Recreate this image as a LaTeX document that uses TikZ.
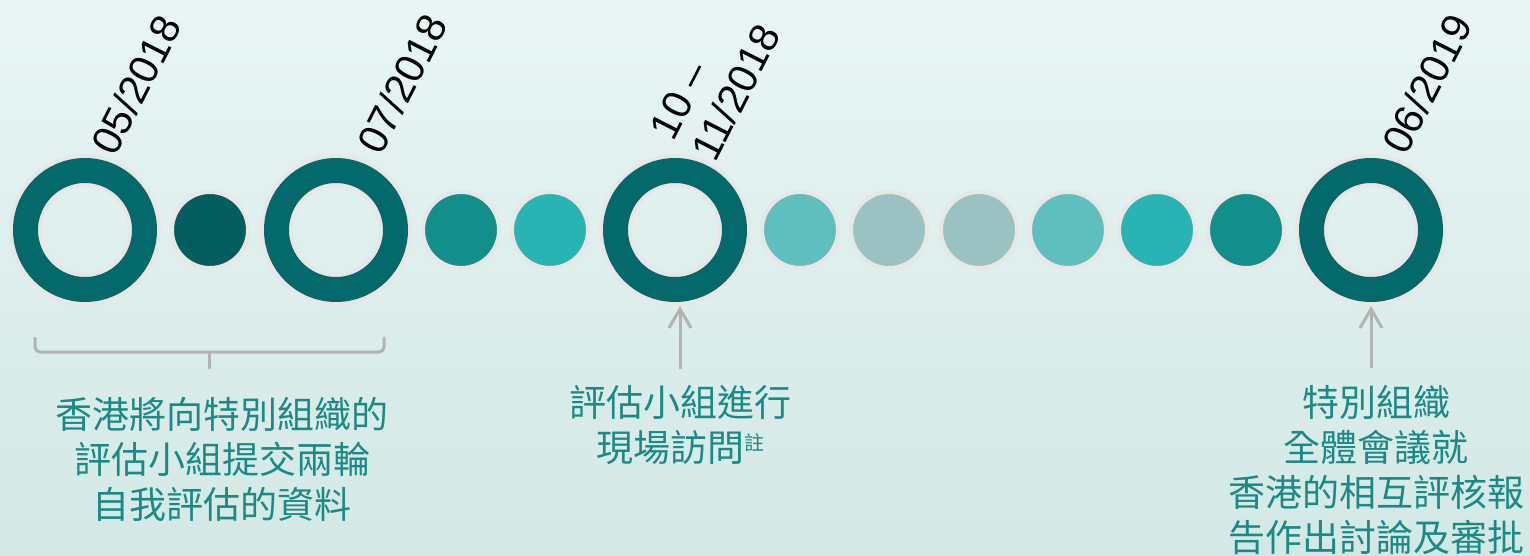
\documentclass[tikz,border=0pt]{standalone}
\usepackage{fontspec}
\setmainfont{Liberation Sans}
\newfontfamily\cjk{Noto Sans CJK TC}
\usetikzlibrary{arrows.meta}
\definecolor{bgtop}{HTML}{E8F5F4}
\definecolor{bgbottom}{HTML}{D3E8E5}
\definecolor{ringteal}{HTML}{03696A}
\definecolor{halo}{HTML}{E9E6E6}
\definecolor{dotdeep}{HTML}{045E5F}
\definecolor{dotmid}{HTML}{128E8B}
\definecolor{dotbright}{HTML}{2AB3B3}
\definecolor{dotsoft}{HTML}{5FBEBE}
\definecolor{dotgrey}{HTML}{9BC2C2}
\definecolor{noteteal}{HTML}{1B8A86}
\definecolor{markgrey}{HTML}{B3B3B3}

\begin{document}
\begin{tikzpicture}[x=1pt, y=-1pt,
    ringnode/.style={circle, inner sep=0pt, outer sep=16.5pt, minimum size=119pt,
        draw=ringteal, line width=25pt, preaction={draw=halo, line width=33pt}},
    dotnode/.style={circle, inner sep=0pt, minimum size=76pt,
        draw=halo, line width=4pt, fill=#1},
    datelabel/.style={rotate=63, anchor=south west, inner sep=0pt, align=left,
        font=\fontsize{41}{47}\selectfont},
    notetext/.style={inner sep=0pt, align=center, text=noteteal,
        font=\cjk\fontsize{37}{45}\selectfont},
    bracket/.style={draw=markgrey, line width=3pt, line cap=round, rounded corners=5pt},
    uparrow/.style={draw=markgrey, line width=3pt, -{Straight Barb[length=19pt, width=22pt]}}
]

% --- BACKGROUND ---
\shade[top color=bgtop, bottom color=bgbottom] (0,0) rectangle (1530,556);
\useasboundingbox (0,0) rectangle (1530,556);

% --- TIMELINE: RINGS AND DOTS ---
\foreach \px [count=\i] in {85,336,675,1371} {
    \node[ringnode] (r\i) at (\px,230) {};
}
\foreach \px/\col [count=\i] in {210/dotdeep, 461/dotmid, 550/dotbright,
        800/dotsoft, 889/dotgrey, 979/dotgrey, 1068/dotsoft, 1157/dotbright, 1246/dotmid} {
    \node[dotnode=\col] (d\i) at (\px,230) {};
}

% --- DATES ---
\node[datelabel] (date1) at ([shift={(31,-72)}]r1.center) {05/2018};
\node[datelabel] (date2) at ([shift={(46,-73)}]r2.center) {07/2018};
\node[datelabel] (date3) at ([shift={(41,-66)}]r3.center) {10 –\\11/2018};
\node[datelabel] (date4) at ([shift={(36,-73)}]r4.center) {06/2019};

% --- NOTES ---
\node[notetext] (selfrep) at (222,459) {香港將向特別組織的\\評估小組提交兩輪\\自我評估的資料};
\node[notetext] (visit) at (680,424.5)
    {評估小組進行\\現場訪問\raisebox{11pt}{\fontsize{20}{20}\selectfont 註}};
\node[notetext] (plenary) at (1376,470)
    {特別組織\\全體會議就\\香港的相互評核報\\告作出討論及審批};

% --- POINTERS ---
\draw[bracket] (35,338) -- (35,352) -- (384,352) -- (384,338);
\draw[bracket] (209,352) -- (209,368);
\draw[uparrow, shorten <=16pt] (visit.north) -- (visit.north |- r3.south);
\draw[uparrow, shorten <=17pt] (r4.south |- plenary.north) -- (r4.south);

\end{tikzpicture}
\end{document}
